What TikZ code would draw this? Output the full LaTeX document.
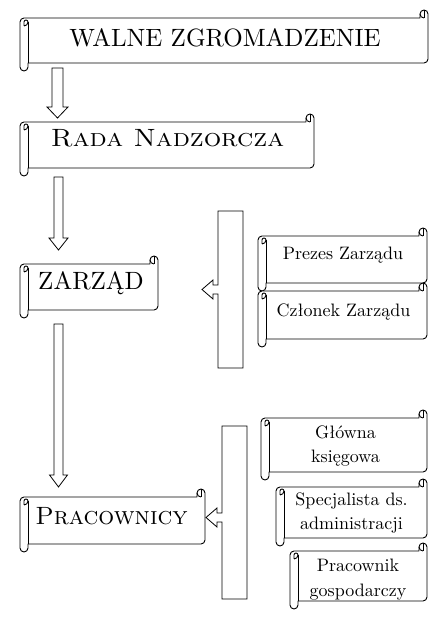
\documentclass[tikz,border=0pt]{standalone}
\usepackage{fontspec}
\setmainfont[SmallCapsFont=lmromancaps10-regular.otf]{lmroman10-regular.otf}
\tikzset{
  scrollline/.style={line width=0.9pt, draw=black, fill=white, line join=round},
  scrollstroke/.style={line width=0.9pt, draw=black, line join=round},
  blockarrow/.style={line width=0.8pt, draw=black, fill=white, line join=miter},
  bigtext/.style={font=\fontsize{25}{30}\selectfont, inner sep=0pt, anchor=base},
  smalltext/.style={font=\fontsize{18}{24}\selectfont, inner sep=0pt, anchor=base},
}
\newcommand{\hscroll}[4]{%
  \pgfmathsetmacro\scL{#1}%
  \pgfmathsetmacro\scT{619-#2}%
  \pgfmathsetmacro\scR{#3}%
  \pgfmathsetmacro\scB{619-#4}%
  \pgfmathsetmacro\scTe{\scT-8}%
  \pgfmathsetmacro\scYc{\scT-12}%
  \pgfmathsetmacro\scYd{\scT-16}%
  \pgfmathsetmacro\scBe{\scB+8}%
  \pgfmathsetmacro\scYg{\scB+4}%
  \pgfmathsetmacro\scYe{\scB+12}%
  \pgfmathsetmacro\scXc{\scR-8}%
  \pgfmathsetmacro\scXd{\scR-4}%
  \pgfmathsetmacro\scLa{\scL+4}%
  \pgfmathsetmacro\scLb{\scL+8}%
  \pgfmathsetmacro\scTh{\scT-4}%
  \path[scrollline] (\scL,\scYc) arc[start angle=180,end angle=90,radius=4]
     -- (\scXc,\scTe) -- (\scXc,\scTh) arc[start angle=180,end angle=0,radius=4]
     -- (\scR,\scYe) arc[start angle=0,end angle=-90,radius=4]
     -- (\scLb,\scBe) -- (\scLb,\scYg) arc[start angle=0,end angle=-180,radius=4] -- cycle;
  \path[scrollstroke] (\scLb,\scYc) -- (\scLb,\scBe);
  \path[scrollstroke] (\scLa,\scYd) arc[start angle=-90,end angle=0,radius=4]
     arc[start angle=0,end angle=180,radius=2] -- (\scLa,\scYd);
  \path[scrollstroke] (\scXc,\scTh) arc[start angle=180,end angle=270,radius=4];
  \path[scrollstroke] (\scXd,\scT) -- (\scXd,\scTe);
}
\begin{document}
\begin{tikzpicture}[x=1pt,y=1pt]
\useasboundingbox[fill=white] (0,0) rectangle (446,619);

% scrolls
\hscroll{20}{10}{428}{71}
\hscroll{20}{114}{314}{176}
\hscroll{20}{256}{158}{318}
\hscroll{20}{489}{205}{552}
\hscroll{258}{228}{427}{291}
\hscroll{258}{283}{427}{347}
\hscroll{261}{410}{427}{480}
\hscroll{276}{479}{427}{546}
\hscroll{290}{543}{427}{609}

% texts
\node[bigtext] (wz) at (225,572) {WALNE ZGROMADZENIE};
\node[bigtext] (rn) at (167.5,472) {\scalebox{1.1}[1]{\textsc{Rada Nadzorcza}}};
\node[bigtext] (za) at (91,329) {ZARZĄD};
\node[bigtext] (pr) at (111.5,94) {\textsc{Pracownicy}};
\node[smalltext] (pz) at (343,359) {Prezes Zarządu};
\node[smalltext] (cz) at (343.5,302) {Członek Zarządu};
\node[smalltext] (gk) at (345.5,180) {\begin{tabular}[t]{@{}c@{}}Główna\\księgowa\end{tabular}};
\node[smalltext] (sa) at (351.5,113) {\begin{tabular}[t]{@{}c@{}}Specjalista ds.\\administracji\end{tabular}};
\node[smalltext] (pg) at (358,47) {\begin{tabular}[t]{@{}c@{}}Pracownik\\gospodarczy\end{tabular}};

% down block arrows
\path[blockarrow] (52,551) -- (63,551) -- (63,512) -- (68,512) -- (57.5,501) -- (47,512) -- (52,512) -- cycle;
\path[blockarrow] (54,442) -- (63,442) -- (63,381) -- (68,381) -- (58.5,369) -- (49,381) -- (54,381) -- cycle;
\path[blockarrow] (54,295) -- (63,295) -- (63,144) -- (67.5,144) -- (58.5,132) -- (49.5,144) -- (54,144) -- cycle;

% left block arrows (brackets)
\path[blockarrow] (218,408) -- (243,408) -- (243,251) -- (218,251) -- (218,325) -- (213,325) -- (213,320)
   -- (202,329.5) -- (213,339) -- (213,334) -- (218,334) -- cycle;
\path[blockarrow] (222,193) -- (247,193) -- (247,20) -- (222,20) -- (222,97) -- (217,97) -- (217,92)
   -- (206,101.5) -- (217,111) -- (217,106) -- (222,106) -- cycle;
\end{tikzpicture}
\end{document}
